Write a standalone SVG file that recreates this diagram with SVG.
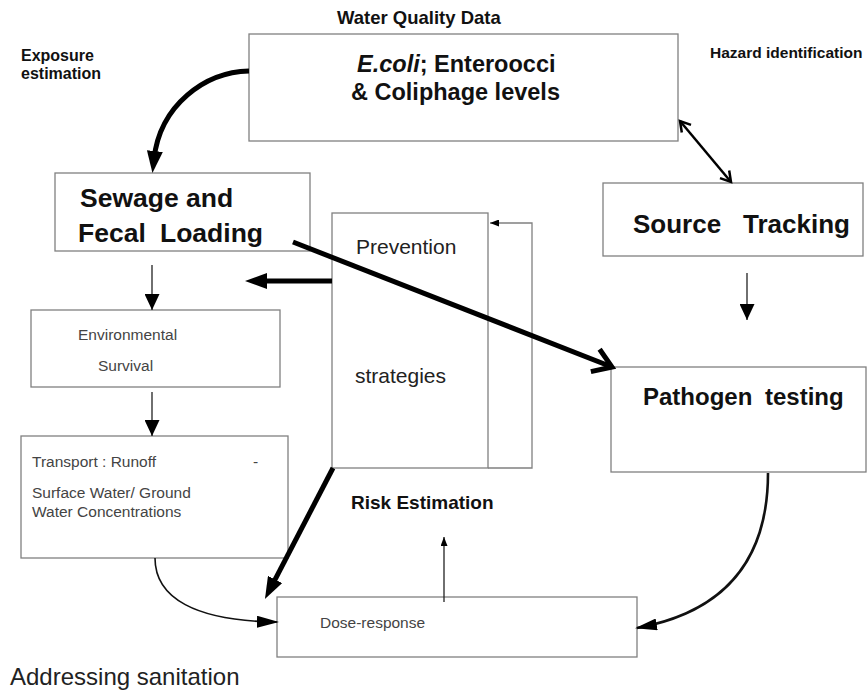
<svg xmlns="http://www.w3.org/2000/svg" width="867" height="693" viewBox="0 0 867 693">
<style>
.box{fill:#fff;stroke:#808080;stroke-width:1.3}
.loop{fill:none;stroke:#808080;stroke-width:1.3}
.b{font-family:"Liberation Sans",Arial,sans-serif;font-weight:bold;fill:#111}
.r{font-family:"Liberation Sans",Arial,sans-serif;fill:#222}
.g{font-family:"Liberation Sans",Arial,sans-serif;fill:#444;font-size:15.5px}
.thin{fill:none;stroke:#222;stroke-width:1.3}
.thick{fill:none;stroke:#000;stroke-width:5}
</style>
<defs>
<marker id="ah" viewBox="0 0 16 15" markerWidth="16" markerHeight="15" refX="16" refY="7.5" orient="auto" markerUnits="userSpaceOnUse"><path d="M0,0 L16,7.5 L0,15 z" fill="#000"/></marker>
<marker id="ahb" viewBox="0 0 22 16" markerWidth="22" markerHeight="16" refX="8" refY="8" orient="auto" markerUnits="userSpaceOnUse"><path d="M0,0 L22,8 L0,16 z" fill="#000"/></marker>
<marker id="ahc" viewBox="0 0 22 12" markerWidth="22" markerHeight="12" refX="20" refY="6" orient="auto" markerUnits="userSpaceOnUse"><path d="M0,0 L22,6 L0,12 z" fill="#000"/></marker>
<marker id="ahs" viewBox="0 0 9 7" markerWidth="9" markerHeight="7" refX="9" refY="3.5" orient="auto" markerUnits="userSpaceOnUse"><path d="M0,0 L9,3.5 L0,7 z" fill="#000"/></marker>
<marker id="chev" viewBox="0 0 24 30" markerWidth="24" markerHeight="30" refX="21" refY="15" orient="auto" markerUnits="userSpaceOnUse" overflow="visible"><path d="M3,3 L21,15 L3,27" fill="none" stroke="#000" stroke-width="5"/></marker>
<marker id="chs" viewBox="0 0 14 16" markerWidth="14" markerHeight="16" refX="12" refY="8" orient="auto-start-reverse" markerUnits="userSpaceOnUse" overflow="visible"><path d="M2,2 L12,8 L2,14" fill="none" stroke="#000" stroke-width="2.5"/></marker>
</defs>
<rect width="867" height="693" fill="#fff"/>

<text class="b" x="337" y="24" font-size="18.5">Water Quality Data</text>
<text class="b" x="21" y="61" font-size="16">Exposure</text>
<text class="b" x="21" y="79" font-size="16">estimation</text>
<text class="b" x="710" y="58" font-size="15.5">Hazard identification</text>
<text class="b" x="351" y="509" font-size="19">Risk Estimation</text>
<text class="r" x="10" y="685" font-size="24">Addressing sanitation</text>

<g id="water-quality">
<rect class="box" x="249" y="34" width="429" height="107"/>
<text class="b" x="357" y="72" font-size="23.5"><tspan font-style="italic">E.coli</tspan>; Enteroocci</text>
<text class="b" x="351" y="100" font-size="23.5">&amp; Coliphage levels</text>
</g>

<g id="sewage">
<rect class="box" x="55" y="173" width="255" height="78"/>
<text class="b" x="80" y="207" font-size="26.5">Sewage and</text>
<text class="b" y="242" font-size="26.5"><tspan x="78">Fecal</tspan> <tspan x="160">Loading</tspan></text>
</g>

<g id="environmental">
<rect class="box" x="31" y="310" width="249" height="77"/>
<text class="g" x="78" y="340">Environmental</text>
<text class="g" x="98" y="371">Survival</text>
</g>

<g id="transport">
<rect class="box" x="21" y="436" width="267" height="122"/>
<text class="g" x="32" y="467">Transport : Runoff</text>
<text class="g" x="253" y="467">-</text>
<text class="g" x="32" y="498">Surface Water/ Ground</text>
<text class="g" x="32" y="517">Water Concentrations</text>
</g>

<g id="prevention">
<rect class="box" x="332" y="213" width="156" height="255"/>
<text class="r" x="356" y="254" font-size="21">Prevention</text>
<text class="r" x="355" y="383" font-size="21">strategies</text>
</g>

<g id="source-tracking">
<rect class="box" x="603" y="183" width="260" height="73"/>
<text class="b" y="233" font-size="26"><tspan x="633">Source</tspan> <tspan x="743">Tracking</tspan></text>
</g>

<g id="pathogen">
<rect class="box" x="611" y="367" width="255" height="105"/>
<text class="b" y="405" font-size="24"><tspan x="643">Pathogen</tspan> <tspan x="765">testing</tspan></text>
</g>

<g id="dose-response">
<rect class="box" x="277" y="597" width="360" height="60"/>
<text class="g" x="320" y="628" font-size="16">Dose-response</text>
</g>

<g id="connectors">
<polyline class="loop" points="488,468 532,468 532,223 490,223" marker-end="url(#ahs)"/>
<path class="thick" d="M249,71 C205,72 160,105 154,159" marker-end="url(#ahb)"/>
<path class="thin" d="M152,265 L152,310" marker-end="url(#ah)"/>
<path class="thin" d="M152,392 L152,436" marker-end="url(#ah)"/>
<path class="thin" d="M747,273 L747,320" marker-end="url(#ah)"/>
<path class="thick" d="M332,281 L259,281" marker-end="url(#ahb)"/>
<path class="thick" d="M293,242 L612,367" marker-end="url(#chev)"/>
<path d="M680,121 L731,182" fill="none" stroke="#000" stroke-width="2.5" marker-start="url(#chs)" marker-end="url(#chs)"/>
<path class="thick" d="M333,468 L271.4,586.6" marker-end="url(#ahb)"/>
<path d="M155,558 C155,598 195,621 277,622" fill="none" stroke="#111" stroke-width="1.6" marker-end="url(#ahc)"/>
<path class="thin" d="M444,602 L444,537" marker-end="url(#ahs)"/>
<path d="M768,473 C768,560 725,612 637,628" fill="none" stroke="#111" stroke-width="2.6" marker-end="url(#ahc)"/>
</g>
</svg>
